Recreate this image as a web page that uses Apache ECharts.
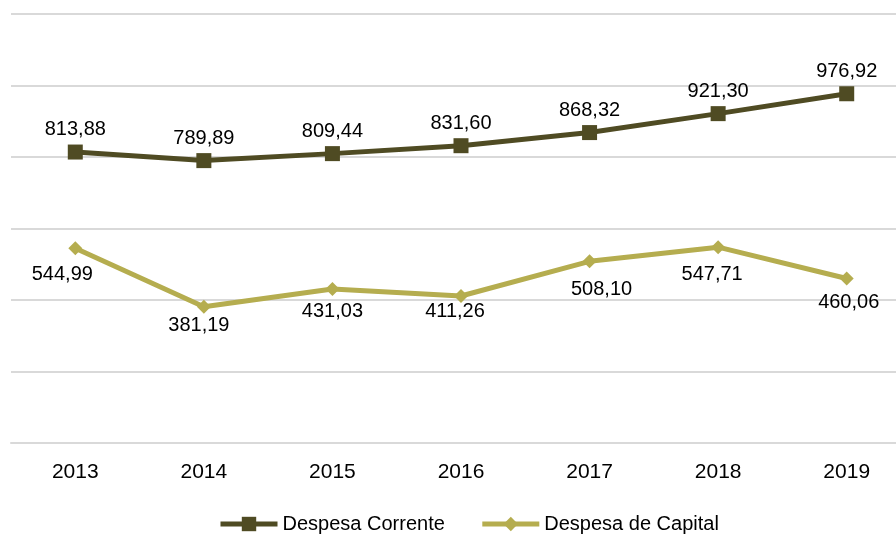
<!DOCTYPE html>
<html>
<head>
<meta charset="utf-8">
<style>
  html, body { margin: 0; padding: 0; background: #ffffff; }
  #chart { width: 896px; height: 536px; }
</style>
<script src="https://cdn.jsdelivr.net/npm/echarts@6/dist/echarts.min.js"></script>
</head>
<body>
<div id="chart"></div>
<script>
// Years on the category axis
const years = ['2013', '2014', '2015', '2016', '2017', '2018', '2019'];
// Current expenditure
const despesaCorrente = [813.88, 789.89, 809.44, 831.60, 868.32, 921.30, 976.92];
// Capital expenditure
const despesaCapital = [544.99, 381.19, 431.03, 411.26, 508.10, 547.71, 460.06];
// Value axis range
const yMin = 0, yMax = 1200, yStep = 200;

// Label nudges for the capital series, so the numbers sit clear of the line
const capitalLabelOffsets = [[-13, 1], [-5, -6], [0, -2], [-6, -9], [12, 3], [-6, 2], [2, -1]];

const FONT = '"Liberation Sans Narrow", "Liberation Sans", Arial, sans-serif';
const fmt = v => v.toFixed(2).replace('.', ',');

const chart = echarts.init(document.getElementById('chart'), null, { renderer: 'canvas' });
chart.setOption({
  backgroundColor: '#ffffff',
  animation: false,
  grid: {
    left: 11, top: 14, right: -15, bottom: 93,
    containLabel: false,
    outerBoundsMode: 'none'
  },
  legend: {
    bottom: -3,
    left: 213,
    itemWidth: 57,
    itemHeight: 18,
    itemGap: 35,
    lineStyle: { width: 5 },
    textStyle: { fontFamily: FONT, fontSize: 20, color: '#000000' },
    data: ['Despesa Corrente', 'Despesa de Capital']
  },
  xAxis: {
    type: 'category',
    data: years,
    boundaryGap: true,
    axisLine: { show: true, lineStyle: { color: '#d9d9d9', width: 2 } },
    axisTick: { show: false },
    axisLabel: { fontFamily: FONT, fontSize: 21, color: '#000000', margin: 19 },
    splitLine: { show: false }
  },
  yAxis: {
    type: 'value',
    min: yMin,
    max: yMax,
    interval: yStep,
    axisLine: { show: false },
    axisTick: { show: false },
    axisLabel: { show: false },
    splitLine: { show: true, lineStyle: { color: '#d9d9d9', width: 2 } }
  },
  series: [
    {
      name: 'Despesa Corrente',
      type: 'line',
      data: despesaCorrente,
      symbol: 'rect',
      symbolSize: 15,
      lineStyle: { color: '#4f4b23', width: 5 },
      itemStyle: { color: '#4f4b23' },
      label: {
        show: true,
        position: 'top',
        distance: 5,
        fontFamily: FONT,
        fontSize: 20,
        color: '#000000',
        formatter: p => fmt(p.value)
      },
      z: 3
    },
    {
      name: 'Despesa de Capital',
      type: 'line',
      data: despesaCapital.map((v, i) => ({
        value: v,
        label: { offset: capitalLabelOffsets[i] }
      })),
      symbol: 'diamond',
      symbolSize: 14,
      lineStyle: { color: '#b5ad4f', width: 5 },
      itemStyle: { color: '#b5ad4f' },
      label: {
        show: true,
        position: 'bottom',
        distance: 8,
        fontFamily: FONT,
        fontSize: 20,
        color: '#000000',
        formatter: p => fmt(p.value)
      },
      z: 2
    }
  ]
});
</script>
</body>
</html>
